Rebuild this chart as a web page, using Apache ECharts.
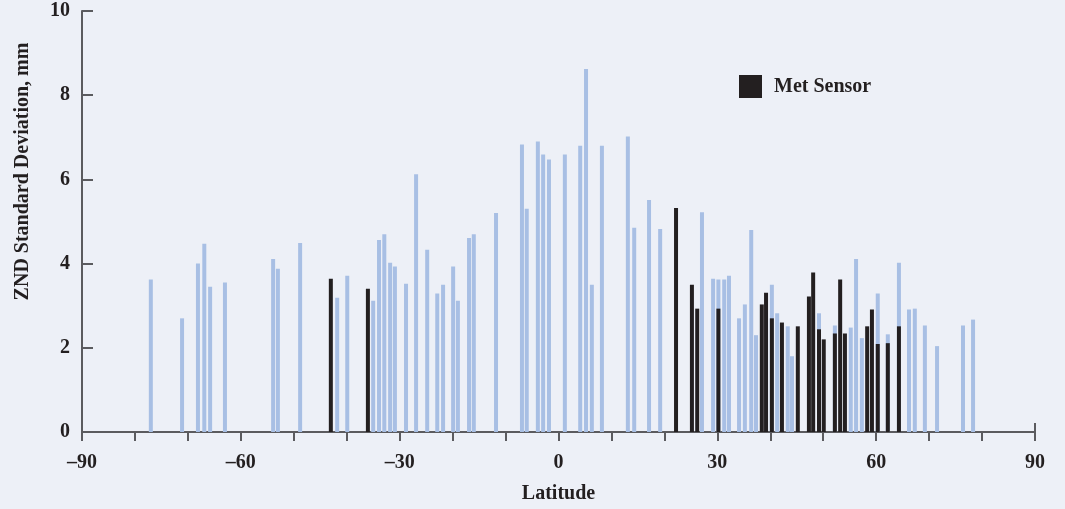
<!DOCTYPE html>
<html>
<head>
<meta charset="utf-8">
<script src="https://cdn.jsdelivr.net/npm/echarts@6/dist/echarts.min.js"></script>
<style>
html,body{margin:0;padding:0;background:#edf0f7;}
#chart{width:1065px;height:509px;}
</style>
</head>
<body>
<div id="chart"></div>
<script>
// all stations (light blue)
var allLat = [-77.0, -71.1, -68.1, -66.9, -65.8, -63.0, -53.9, -53.0, -48.8, -41.8, -39.9, -35.0, -33.9, -32.9, -31.8, -30.9, -28.8, -26.9, -24.8, -22.9, -21.8, -19.9, -19.0, -16.9, -16.0, -11.8, -6.9, -6.0, -3.9, -2.9, -1.8, 1.2, 4.1, 5.2, 6.3, 8.2, 13.1, 14.3, 17.1, 19.2, 27.1, 29.2, 30.2, 31.3, 32.2, 34.1, 35.2, 36.4, 37.3, 40.3, 41.3, 43.3, 44.1, 49.2, 52.2, 55.2, 56.2, 57.3, 60.3, 62.2, 64.3, 66.2, 67.3, 69.2, 71.5, 76.4, 78.3];
var allZnd = [3.62, 2.70, 4.00, 4.47, 3.45, 3.55, 4.11, 3.88, 4.49, 3.19, 3.71, 3.12, 4.56, 4.70, 4.02, 3.93, 3.52, 6.12, 4.33, 3.29, 3.50, 3.93, 3.12, 4.61, 4.70, 5.20, 6.83, 5.30, 6.90, 6.59, 6.47, 6.59, 6.80, 8.62, 3.50, 6.80, 7.02, 4.85, 5.51, 4.82, 5.22, 3.64, 3.62, 3.62, 3.71, 2.70, 3.03, 4.80, 2.30, 3.50, 2.82, 2.51, 1.80, 2.82, 2.53, 2.48, 4.11, 2.23, 3.29, 2.32, 4.02, 2.91, 2.93, 2.53, 2.04, 2.53, 2.67];
// met sensor stations (black)
var metLat = [-43.0, -36.0, 22.2, 25.2, 26.2, 30.2, 38.4, 39.2, 40.3, 42.2, 45.2, 47.3, 48.1, 49.2, 50.1, 52.2, 53.2, 54.1, 58.3, 59.2, 60.3, 62.2, 64.3];
var metZnd = [3.64, 3.40, 5.32, 3.50, 2.93, 2.93, 3.03, 3.31, 2.70, 2.60, 2.51, 3.22, 3.79, 2.44, 2.20, 2.34, 3.62, 2.34, 2.51, 2.91, 2.09, 2.11, 2.51];

var xTicks = [-90, -60, -30, 0, 30, 60, 90];

function pairs(xs, ys){
	var out = [];
	for(var i=0;i<xs.length;i++){
		out.push([xs[i], ys[i]]);
	}
	return out;
}

var font = '"Liberation Serif", "DejaVu Serif", serif';
var ink = '#231f20';
var axisCol = '#5b5b5f';

var chart = echarts.init(document.getElementById('chart'));
var option = {
	backgroundColor: '#edf0f7',
	animation: false,
	grid: {left: 82, right: 30, top: 11, bottom: 75},
	legend: {
		data: ['Met Sensor'],
		left: 739, top: 75,
		padding: 0,
		icon: 'rect',
		itemWidth: 23, itemHeight: 23,
		textStyle: {fontFamily: font, fontWeight: 'bold', fontSize: 20, color: ink, padding: [0,0,0,7]}
	},
	xAxis: [{
		type: 'value',
		min: -90, max: 90, interval: 10,
		name: 'Latitude',
		nameLocation: 'middle',
		nameGap: 52,
		nameTextStyle: {fontFamily: font, fontWeight: 'bold', fontSize: 20, color: ink},
		splitLine: {show: false},
		axisLine: {show: true, onZero: false, lineStyle: {color: axisCol, width: 2}},
		axisTick: {show: true, length: 9, lineStyle: {color: axisCol, width: 2}},
		axisLabel: {
			margin: 21,
			fontFamily: font, fontWeight: 'bold', fontSize: 20, color: ink,
			formatter: function(v){
				if(xTicks.indexOf(v) < 0) return '';
				return v < 0 ? '\u2013' + (-v) : '' + v;
			}
		}
	}, {
		// only for the small upward tick at the right end
		type: 'value',
		min: -90, max: 90, interval: 180,
		position: 'bottom',
		splitLine: {show: false},
		axisLine: {show: false, onZero: false},
		axisTick: {show: true, inside: true, length: 9, lineStyle: {color: axisCol, width: 2}},
		axisLabel: {show: false}
	}],
	yAxis: {
		type: 'value',
		min: 0, max: 10, interval: 2,
		name: 'ZND Standard Deviation, mm',
		nameLocation: 'middle',
		nameGap: 49,
		nameTextStyle: {fontFamily: font, fontWeight: 'bold', fontSize: 20, color: ink, padding: [0,0,0,100]},
		splitLine: {show: false},
		axisLine: {show: true, onZero: false, lineStyle: {color: axisCol, width: 2}},
		axisTick: {show: true, inside: true, length: 11, lineStyle: {color: axisCol, width: 2}},
		axisLabel: {margin: 12, fontFamily: font, fontWeight: 'bold', fontSize: 20, color: ink}
	},
	series: [{
		name: 'All',
		type: 'bar',
		barWidth: 4,
		barGap: '-100%',
		itemStyle: {color: '#a8bfe4'},
		data: pairs(allLat, allZnd)
	}, {
		name: 'Met Sensor',
		type: 'bar',
		barWidth: 4,
		barGap: '-100%',
		itemStyle: {color: ink},
		data: pairs(metLat, metZnd)
	}]
};
chart.setOption(option);
</script>
</body>
</html>
